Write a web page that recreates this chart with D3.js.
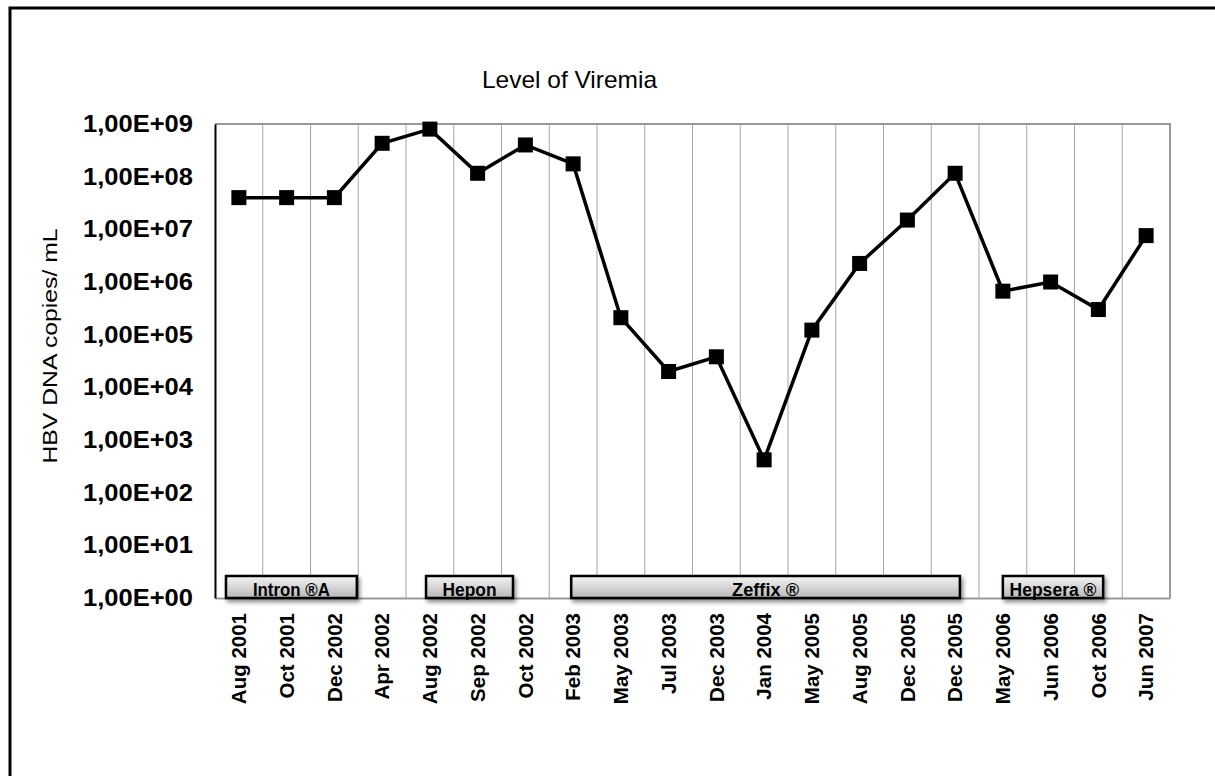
<!DOCTYPE html>
<html><head><meta charset="utf-8">
<script src="https://cdn.jsdelivr.net/npm/d3@7/dist/d3.min.js"></script>
<style>body{margin:0;background:#fff}svg{display:block}</style>
</head><body><svg id="c" width="1215" height="776"></svg>
<script>
const categories = ["Aug 2001","Oct 2001","Dec 2002","Apr 2002","Aug 2002","Sep 2002","Oct 2002","Feb 2003","May 2003","Jul 2003","Dec 2003","Jan 2004","May 2005","Aug 2005","Dec 2005","Dec 2005","May 2006","Jun 2006","Oct 2006","Jun 2007"];
const viremia = [4.0e7,4.0e7,4.0e7,4.3e8,8.0e8,1.16e8,4.0e8,1.75e8,2.1e5,2.0e4,3.8e4,4.2e2,1.22e5,2.25e6,1.5e7,1.16e8,6.7e5,1.0e6,3.0e5,7.6e6];
const yTicks = [1e0,1e1,1e2,1e3,1e4,1e5,1e6,1e7,1e8,1e9];
const yTickLabels = ["1,00E+00","1,00E+01","1,00E+02","1,00E+03","1,00E+04","1,00E+05","1,00E+06","1,00E+07","1,00E+08","1,00E+09"];
const treatments = ["Intron \u00AEA","Hepon","Zeffix \u00AE","Hepsera \u00AE"];
const treatmentStart = [0.23,4.42,7.46,16.5];
const treatmentEnd = [2.97,6.24,15.6,18.6];
const treatmentTextWidth = [77,54,67,87];

const svg = d3.select("#c");
const FONT = "Liberation Sans, Arial, sans-serif";
const L=215,R=1170,T=124,B=598;
const x = d3.scaleBand().domain(d3.range(categories.length)).range([L,R]).padding(0);
const xl = d3.scaleLinear().domain([0,categories.length]).range([L,R]);
const y = d3.scaleLog().domain([1,1e9]).range([B,T]);

const defs = svg.append("defs");
const g = defs.append("linearGradient").attr("id","bg").attr("x1",0).attr("y1",0).attr("x2",0).attr("y2",1);
g.append("stop").attr("offset","0%").attr("stop-color","#f4f4f4");
g.append("stop").attr("offset","100%").attr("stop-color","#b8b8b8");
const f = defs.append("filter").attr("id","sh").attr("x","-10%").attr("y","-30%").attr("width","130%").attr("height","180%");
f.append("feDropShadow").attr("dx",2).attr("dy",3).attr("stdDeviation",2).attr("flood-color","#000").attr("flood-opacity",0.45);

// outer frame
svg.append("path").attr("d","M10,776V8H1215").attr("fill","none").attr("stroke","#000").attr("stroke-width",3);

// title
svg.append("text").attr("x",482).attr("y",88).attr("font-family",FONT)
  .attr("font-size",24).attr("textLength",175).attr("lengthAdjust","spacingAndGlyphs").text("Level of Viremia");

// gridlines
svg.append("g").selectAll("line").data(d3.range(1,categories.length)).join("line")
  .attr("x1",d=>xl(d)).attr("x2",d=>xl(d)).attr("y1",T).attr("y2",B)
  .attr("stroke","#a6a6a6").attr("stroke-width",1);

// plot border (top/right)
svg.append("path").attr("d",`M${L},${T}H${R}V${B}`).attr("fill","none").attr("stroke","#999").attr("stroke-width",2);

// x axis
const xa = svg.append("g").attr("transform",`translate(0,${B})`)
  .call(d3.axisBottom(x).tickSize(0).tickFormat(i=>categories[i]));
xa.select(".domain").attr("stroke","#999").attr("stroke-width",2);
xa.selectAll("text").attr("font-family",FONT).attr("font-weight","bold")
  .attr("font-size",20.5).attr("fill","#000")
  .attr("transform","rotate(-90)").attr("text-anchor","end").attr("x",-15).attr("y",0).attr("dy","0.35em");

// y axis
const ya = svg.append("g").attr("transform",`translate(${L},0)`)
  .call(d3.axisLeft(y).tickValues(yTicks).tickSize(0).tickPadding(22).tickFormat((d,i)=>yTickLabels[i]));
ya.select(".domain").attr("stroke","#000").attr("stroke-width",2);
ya.selectAll("text").attr("font-family",FONT).attr("font-weight","bold")
  .attr("font-size",23).attr("fill","#000").attr("textLength",110).attr("lengthAdjust","spacingAndGlyphs");

// y title
svg.append("text").attr("transform","translate(57,346) rotate(-90)").attr("text-anchor","middle")
  .attr("font-family",FONT).attr("font-size",21)
  .attr("textLength",235).attr("lengthAdjust","spacingAndGlyphs").text("HBV DNA copies/ mL");

// treatment bars
const tg = svg.append("g").selectAll("g").data(treatments).join("g");
tg.append("rect").attr("x",(d,i)=>xl(treatmentStart[i])).attr("width",(d,i)=>xl(treatmentEnd[i])-xl(treatmentStart[i]))
  .attr("y",576).attr("height",22).attr("fill","url(#bg)").attr("stroke","#000").attr("stroke-width",2.5)
  .attr("filter","url(#sh)");
tg.append("text").attr("x",(d,i)=>(xl(treatmentStart[i])+xl(treatmentEnd[i]))/2).attr("y",596)
  .attr("text-anchor","middle").attr("font-family",FONT).attr("font-weight","bold")
  .attr("font-size",18).attr("textLength",(d,i)=>treatmentTextWidth[i]).attr("lengthAdjust","spacingAndGlyphs")
  .text(d=>d);

// line
const cx = i=>x(i)+x.bandwidth()/2;
svg.append("path").datum(viremia)
  .attr("d",d3.line().x((d,i)=>cx(i)).y(d=>y(d)))
  .attr("fill","none").attr("stroke","#000").attr("stroke-width",3.5).attr("stroke-linejoin","miter");
svg.append("g").selectAll("rect").data(viremia).join("rect")
  .attr("x",(d,i)=>cx(i)-7.5).attr("y",d=>y(d)-7.5).attr("width",15).attr("height",15).attr("fill","#000");
</script></body></html>
